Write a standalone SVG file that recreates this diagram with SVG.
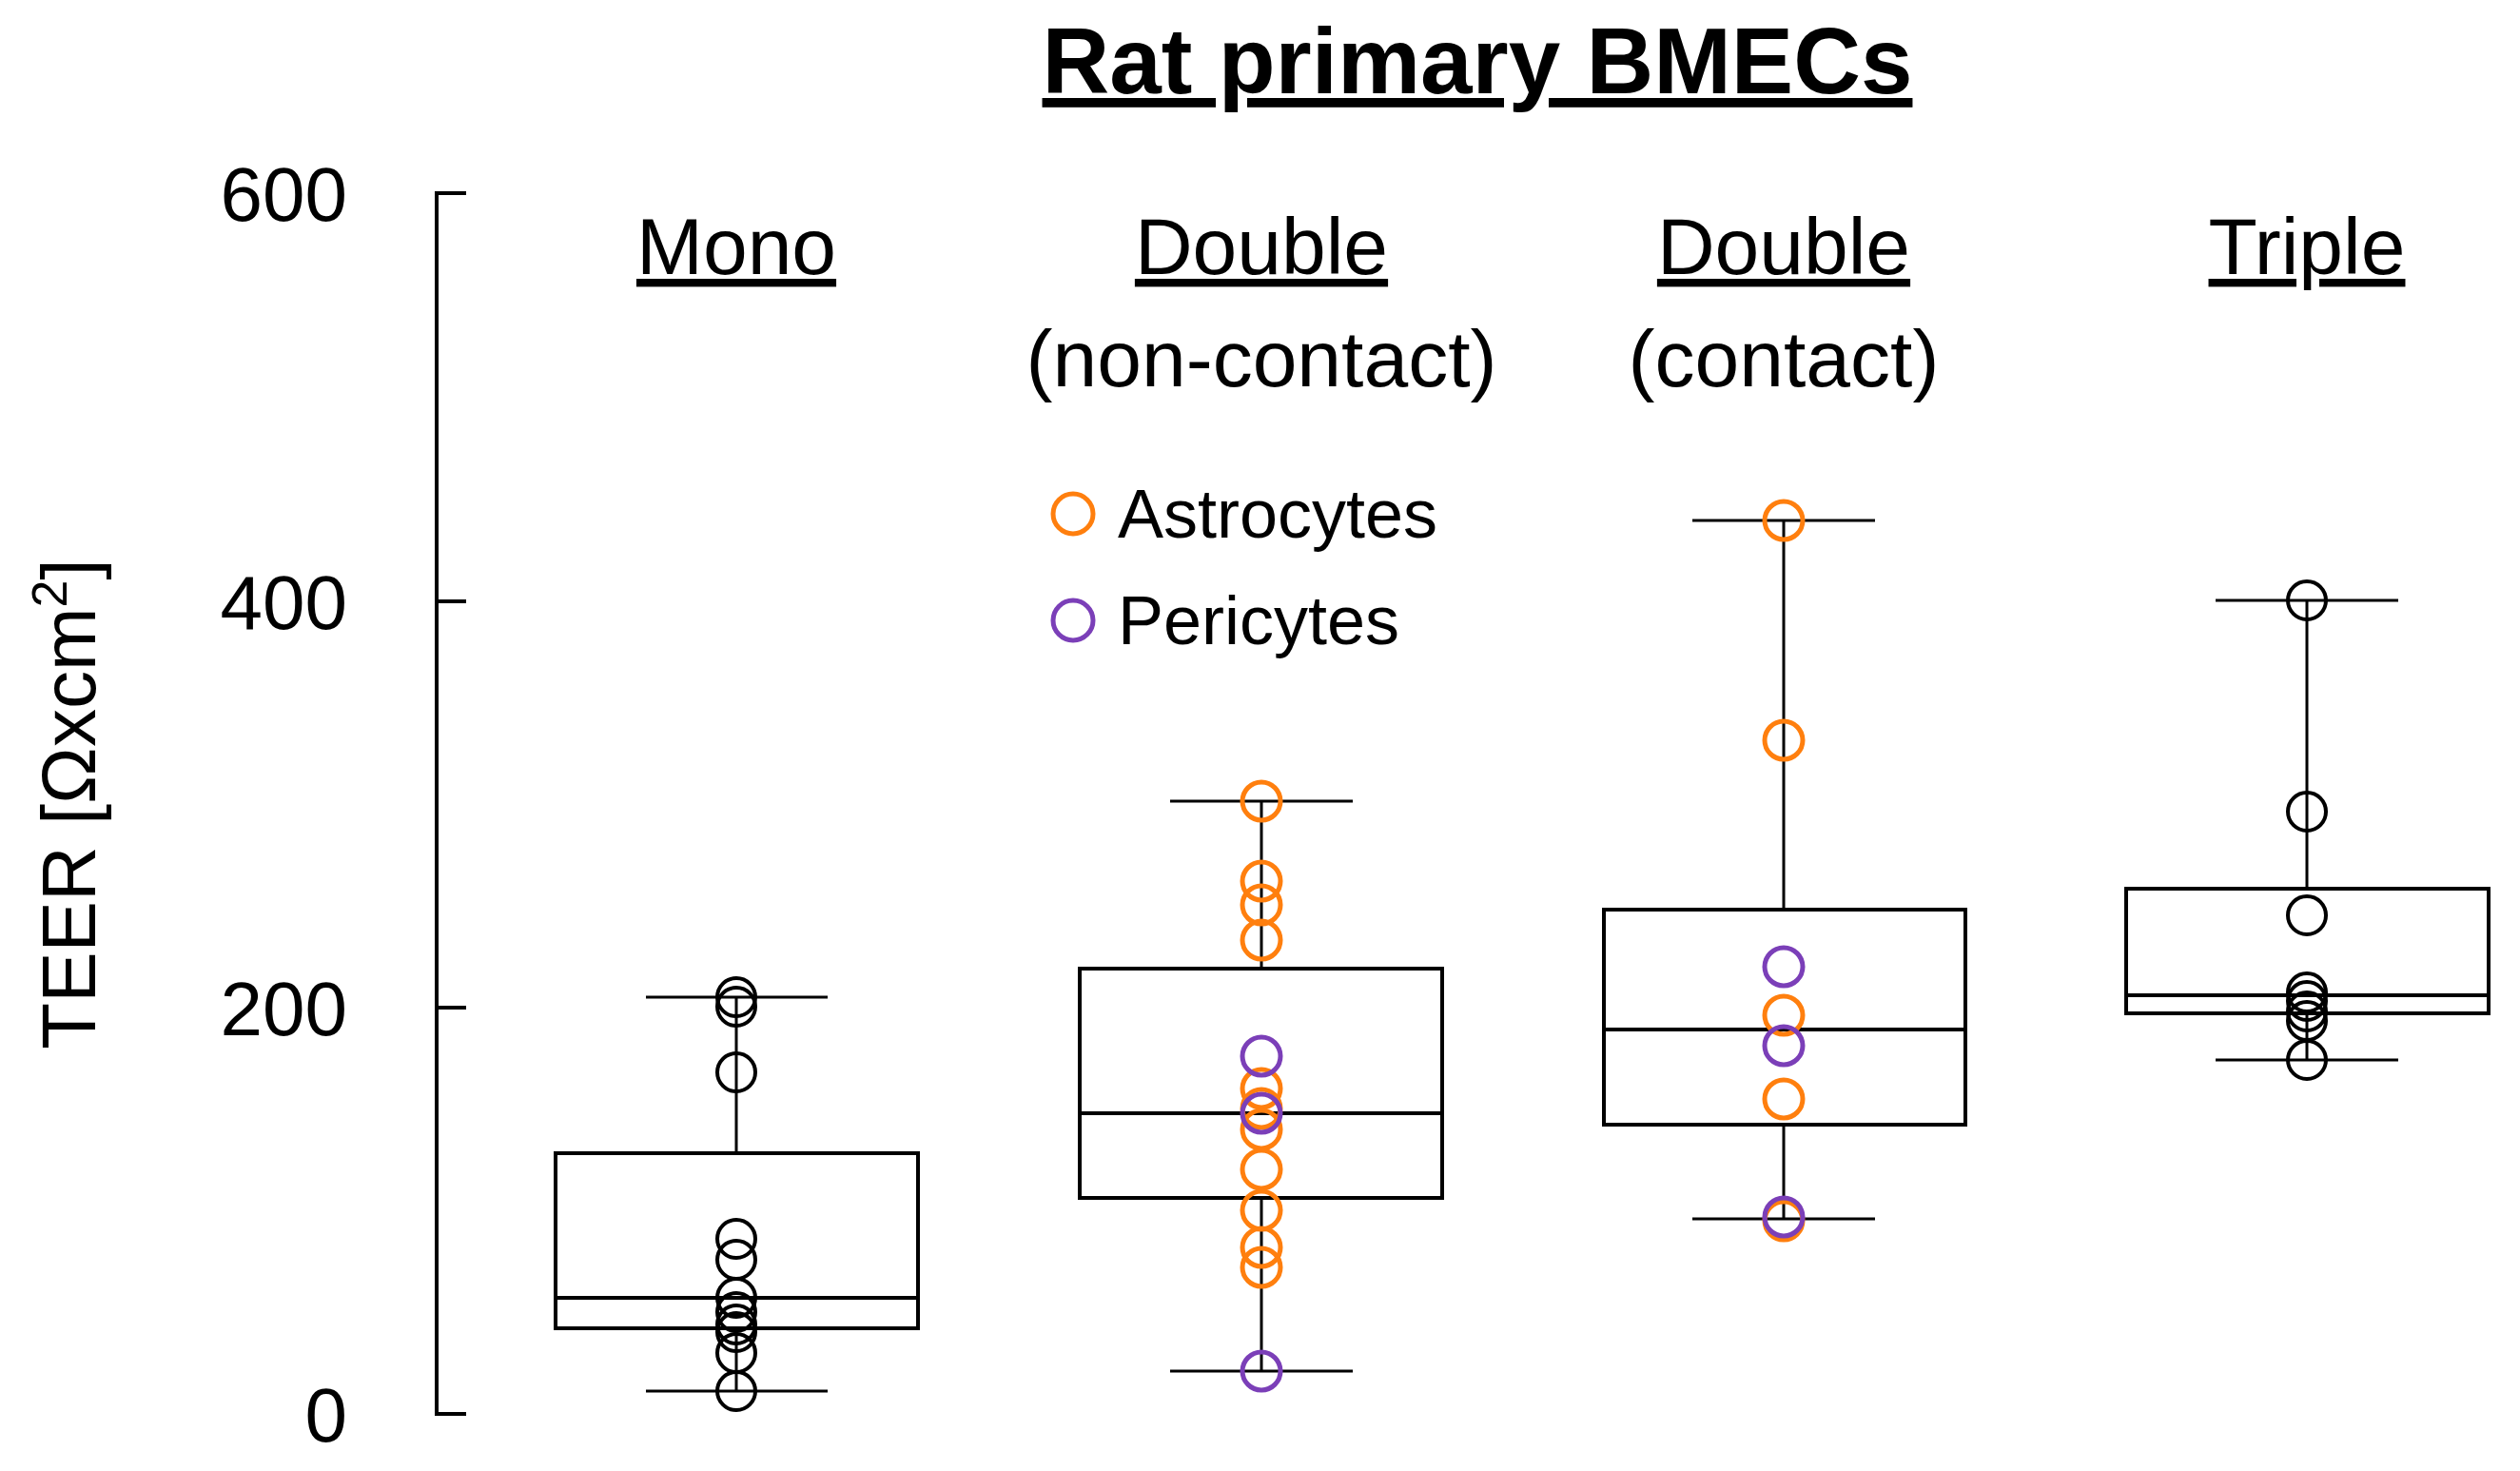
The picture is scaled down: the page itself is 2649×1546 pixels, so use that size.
<svg xmlns="http://www.w3.org/2000/svg" width="2649" height="1546" viewBox="0 0 2649 1546">
<style>
text{font-family:"Liberation Sans","DejaVu Sans",sans-serif;fill:#000}
.t{font-size:80px;text-anchor:end}
.g{font-size:84px;text-anchor:middle}
.u{text-decoration:underline}
.l{fill:none;stroke:#000;stroke-width:3}
.k{fill:none;stroke:#000;stroke-width:4}
.o{fill:none;stroke:#FF7F0E;stroke-width:5}
.p{fill:none;stroke:#7B3FB8;stroke-width:5}
.b{fill:none;stroke:#000;stroke-width:4}
</style>
<rect width="2649" height="1546" fill="#fff"/>
<text x="1553" y="98" style="font-size:98px;font-weight:bold;text-anchor:middle" class="u">Rat primary BMECs</text>
<g id="axis">
<path class="l" d="M490 203H459V1486H490M459 632H490M459 1059H490" style="stroke-width:4"/>
<text class="t" x="365" y="232">600</text>
<text class="t" x="365" y="661">400</text>
<text class="t" x="365" y="1088">200</text>
<text class="t" x="365" y="1515">0</text>
<text transform="translate(100,845) rotate(-90)" style="font-size:80px;text-anchor:middle">TEER [Ωxcm<tspan dy="-30" style="font-size:52px">2</tspan><tspan dy="30">]</tspan></text>
</g>
<g id="labels">
<text class="g u" x="774" y="288">Mono</text>
<text class="g u" x="1326" y="288">Double</text>
<text class="g" x="1326" y="406">(non-contact)</text>
<text class="g u" x="1875" y="288">Double</text>
<text class="g" x="1875" y="406">(contact)</text>
<text class="g u" x="2425" y="288">Triple</text>
</g>
<g id="legend">
<circle class="o" cx="1128" cy="540" r="21"/>
<text x="1175" y="565" style="font-size:72px">Astrocytes</text>
<circle class="p" cx="1128" cy="652" r="21"/>
<text x="1175" y="677" style="font-size:72px">Pericytes</text>
</g>
<g id="mono">
<path class="l" d="M774 1048V1212M774 1396V1462M679 1048H870M679 1462H870"/>
<rect class="b" x="584" y="1212" width="381" height="184"/>
<path class="b" d="M584 1364H965"/>
<g class="k"><circle cx="774" cy="1048" r="20"/><circle cx="774" cy="1058" r="20"/><circle cx="774" cy="1127" r="20"/><circle cx="774" cy="1302" r="20"/><circle cx="774" cy="1324" r="20"/><circle cx="774" cy="1364" r="20"/><circle cx="774" cy="1379" r="20"/><circle cx="774" cy="1392" r="20"/><circle cx="774" cy="1400" r="20"/><circle cx="774" cy="1422" r="20"/><circle cx="774" cy="1462" r="20"/></g>
</g>
<g id="double-noncontact">
<path class="l" d="M1326 842V1018M1326 1259V1441M1230 842H1422M1230 1441H1422"/>
<rect class="b" x="1135" y="1018" width="381" height="241"/>
<path class="b" d="M1135 1170H1516"/>
<g class="o"><circle cx="1326" cy="842" r="20"/><circle cx="1326" cy="926" r="20"/><circle cx="1326" cy="951" r="20"/><circle cx="1326" cy="988" r="20"/><circle cx="1326" cy="1144" r="20"/><circle cx="1326" cy="1165" r="20"/><circle cx="1326" cy="1187" r="20"/><circle cx="1326" cy="1229" r="20"/><circle cx="1326" cy="1272" r="20"/><circle cx="1326" cy="1311" r="20"/><circle cx="1326" cy="1332" r="20"/></g>
<g class="p"><circle cx="1326" cy="1110" r="20"/><circle cx="1326" cy="1170" r="20"/><circle cx="1326" cy="1441" r="20"/></g>
</g>
<g id="double-contact">
<path class="l" d="M1875 547V956M1875 1182V1281M1779 547H1971M1779 1281H1971"/>
<rect class="b" x="1686" y="956" width="380" height="226"/>
<path class="b" d="M1686 1082H2066"/>
<g class="o"><circle cx="1875" cy="547" r="20"/><circle cx="1875" cy="778" r="20"/><circle cx="1875" cy="1067" r="20"/><circle cx="1875" cy="1155" r="20"/><circle cx="1875" cy="1283" r="20"/></g>
<g class="p"><circle cx="1875" cy="1016" r="20"/><circle cx="1875" cy="1099" r="20"/><circle cx="1875" cy="1279" r="20"/></g>
</g>
<g id="triple">
<path class="l" d="M2425 631V934M2425 1065V1114M2329 631H2521M2329 1114H2521"/>
<rect class="b" x="2235" y="934" width="381" height="131"/>
<path class="b" d="M2235 1046H2616"/>
<g class="k"><circle cx="2425" cy="631" r="20"/><circle cx="2425" cy="853" r="20"/><circle cx="2425" cy="962" r="20"/><circle cx="2425" cy="1043" r="20"/><circle cx="2425" cy="1052" r="20"/><circle cx="2425" cy="1063" r="20"/><circle cx="2425" cy="1073" r="20"/><circle cx="2425" cy="1114" r="20"/></g>
</g>
</svg>
